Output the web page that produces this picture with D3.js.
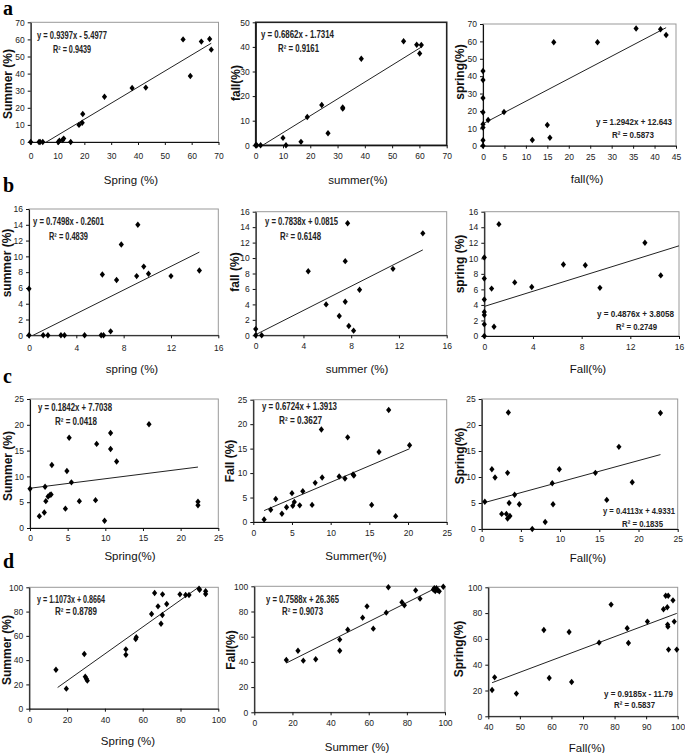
<!DOCTYPE html>
<html><head><meta charset="utf-8">
<script src="https://cdn.jsdelivr.net/npm/d3@7"></script>
<style>body{margin:0;background:#fff} svg{display:block}</style>
</head><body>
<script>
// ---------- DATA ----------
// Row a
const a1Spring = [0,3.1,3.5,4.5,10.3,10.7,11.9,12.3,14.9,18,19.2,19.4,27.5,37.8,42.9,56.8,59.5,63.6,66.7,67.3];
const a1Summer = [0,0,0,0,0,0.8,1.2,2,0,10,11.3,16.4,26.5,31.6,31.8,60,38.6,58.7,60.2,54];
const a2Summer = [0,0.4,1.8,10,11.1,16.6,18.9,24.2,26.5,31.9,31.9,38.7,54.2,59,60.1,60.7];
const a2Fall   = [0,0,0,3,0,1.4,11.5,16.4,4.9,15.4,14.9,35.2,42.3,40.9,37.3,40.8];
const a3Fall   = [0,0,0,0,0,0,0,0,1.2,4.9,11.5,15,15.6,16.5,26.7,35.7,41.4,42.7];
const a3Spring = [0,3.1,10.4,12.3,19.2,27.4,37.8,43,14.8,19.4,3.3,11.9,4.6,59.5,59.5,67.4,67,63.7];
// Row b
const b1Spring = [0,0,1.2,1.6,2.7,3.0,4.7,6.1,6.3,6.2,6.9,7.4,7.8,9.1,9.2,9.7,10.1,12.0,14.4];
const b1Summer = [0,5.9,0,0,0,0,0,0,0,7.7,0.5,7.0,11.5,7.5,14.0,8.7,7.8,7.5,8.2];
const b2Summer = [0,0,0.5,4.4,5.9,7.0,7.5,7.5,7.7,7.8,8.2,8.7,11.5,14.0];
const b2Fall   = [0,0.8,0,8.3,4.0,2.5,9.6,4.35,14.5,1.2,0.6,5.9,8.6,13.2];
const b3Fall   = [0,0,0,0,0,0,0,0.6,0.8,1.2,2.5,3.9,6.5,8.3,9.5,13.2,14.5];
const b3Spring = [0,1.5,2.7,3.1,4.7,7.4,10.1,6.1,1.2,14.4,6.9,6.3,9.2,9.1,6.2,12.0,7.8];
// Row c
const c1Spring = [0,1.24,1.9,2.0,2.1,2.4,2.65,2.8,2.9,4.7,4.9,5.2,5.5,6.55,8.7,8.85,9.9,10.7,10.7,11.5,15.8,22.3,22.3];
const c1Summer = [7.6,2.3,3.0,8.0,5.2,6.1,6.4,6.5,12.2,3.75,11.05,17.5,8.85,5.2,5.4,16.3,1.4,18.4,15.3,12.9,20.1,4.4,5.1];
const c2Summer = [1.4,2.25,2.9,3.7,4.3,5.0,5.1,5.3,6.0,6.4,7.6,8.0,8.8,8.9,11.1,11.85,12.2,12.9,13.0,15.3,16.25,17.5,18.4,20.2];
const c2Fall   = [0.5,2.5,4.7,1.7,3.0,5.9,3.3,4.1,3.4,6.3,3.5,8.0,18.9,9.1,9.3,8.9,17.3,9.7,9.5,3.5,14.3,22.9,1.2,15.7];
const c3Fall   = [0.4,1.3,1.7,2.55,3.15,3.3,3.3,3.4,3.5,3.6,4.2,4.8,6.45,8.1,9.0,9.1,9.9,14.5,15.95,17.5,19.2,22.8];
const c3Spring = [5.25,11.5,9.9,2.9,2.9,2.0,10.8,22.4,5.0,2.5,6.6,4.75,0,1.35,8.8,4.75,11.5,10.8,5.6,15.8,9.0,22.3];
// Row d
const d1Spring = [14.1,19.6,29.1,29.6,30.2,30.7,51.1,51.1,56.3,56.6,64.7,66.3,68.1,69.7,70.4,70.5,72.7,79.7,82.7,84.5,89.8,90.1,93.3,93.3];
const d1Summer = [32.1,16.5,45.1,26.4,24.7,23.1,48.9,44.5,57.4,58.8,78,95.3,84.3,70,77.2,94.2,86.3,94.2,93.7,93.7,98.9,98,96.7,94.5];
const d2Summer = [16.8,22.9,25.7,32.2,44.8,44.8,49,56.8,59.1,62.4,69.2,70.3,77.4,78.7,84.6,86.9,93.9,94.4,94.9,95.5,96,97,99.1];
const d2Fall   = [41.5,48.9,41,42.1,57.7,48.9,65.6,75.1,84.1,66.4,79.1,99.2,87.3,84.9,96.8,90.2,97.4,98.4,96.3,98.4,97.1,96,99.7];
const d3Fall   = [41.2,42.0,48.9,57.6,59.3,65.6,66.4,75.1,78.9,84,84.4,90.4,95.5,96.2,97,96.7,96.8,96.9,97.1,98.5,98.9,99.7];
const d3Spring = [20.4,30.2,17.6,66.9,29.7,65.4,26.6,57.1,86.6,68.2,56.8,73.4,83,93.5,93.5,84.5,71.1,69.5,51.7,89.9,73.4,51.7];

// Regression fits (slope, intercept) and their labels
const fitSlopes     = [0.9397,0.6862,1.2942, 0.7498,0.7838,0.4876, 0.1842,0.6724,0.4113, 1.1073,0.7588,0.9185];
const fitIntercepts = [-5.4977,-1.7314,12.643, -0.2601,0.0815,3.8058, 7.7038,1.3913,4.9331, 0.8664,26.365,-11.79];
const fitRanges     = [[0,67.3],[0,60.7],[0,42.7],[0,14.4],[0,14.0],[0,16],[0,22.3],[1.4,20.2],[0.4,22.8],[15,93.3],[16.8,99.1],[41.2,99.7]];
const eqLabels = ["y = 0.9397x - 5.4977","y = 0.6862x - 1.7314","y = 1.2942x + 12.643",
                  "y = 0.7498x - 0.2601","y = 0.7838x + 0.0815","y = 0.4876x + 3.8058",
                  "y = 0.1842x + 7.7038","y = 0.6724x + 1.3913","y = 0.4113x + 4.9331",
                  "y = 1.1073x + 0.8664","y = 0.7588x + 26.365","y = 0.9185x - 11.79"];
const r2Values = ["0.9439","0.9161","0.5873","0.4839","0.6148","0.2749","0.0418","0.3627","0.1835","0.8789","0.9073","0.5837"];

// Axis titles
const xTitles = ["Spring (%)","summer(%)","fall(%)","spring (%)","summer (%)","Fall(%)","Spring(%)","Summer(%)","Fall(%)","Spring (%)","Summer (%)","Fall(%)"];
const yTitles = ["Summer (%)","fall(%)","spring(%)","summer (%)","fall (%)","spring (%)","Summer (%)","Fall (%)","Spring(%)","Summer (%)","Fall(%)","Spring(%)"];
const rowLetters = ["a","b","c","d"];

// Tick values
const ticks0to70 = [0,10,20,30,40,50,60,70];
const ticks0to50 = [0,10,20,30,40,50];
const ticks0to45 = [0,5,10,15,20,25,30,35,40,45];
const ticks0to16 = [0,4,8,12,16];
const ticks0to16by2 = [0,2,4,6,8,10,12,14,16];
const ticks0to25 = [0,5,10,15,20,25];
const ticks0to100 = [0,20,40,60,80,100];
const ticks40to100 = [40,50,60,70,80,90,100];

// ---------- LAYOUT ----------
const panels = [
 {x:a1Spring,y:a1Summer,xd:[0,70],yd:[0,70],xt:ticks0to70,yt:ticks0to70, L:30.7,R:218.5,B:142,T:22.3, eq:[37,38.5],r2:[53,52.5], xtl:[131,183.5], ytl:[8,84], xg:17, frame:"#999", fw:1},
 {x:a2Summer,y:a2Fall,xd:[0,70],yd:[0,50],xt:ticks0to70,yt:ticks0to50, L:255.7,R:446.7,B:145.3,T:22.3, eq:[261,38],r2:[278,52], xtl:[358,183.5], ytl:[235.5,83], xg:14, frame:"#222", fw:1.6},
 {x:a3Fall,y:a3Spring,xd:[0,45],yd:[0,70],xt:ticks0to45,yt:ticks0to70, L:483,R:676,B:145.7,T:24, eq:[596,124.5],r2:[612,137.5], xtl:[587,182.5], ytl:[460,72], xg:14, frame:"#999", fw:1},
 {x:b1Spring,y:b1Summer,xd:[0,16],yd:[0,16],xt:ticks0to16,yt:ticks0to16by2, L:29,R:218.3,B:335.3,T:209, eq:[33,225],r2:[49,240], xtl:[132,372.5], ytl:[7,263], xg:16, frame:"#999", fw:1},
 {x:b2Summer,y:b2Fall,xd:[0,16],yd:[0,16],xt:ticks0to16,yt:ticks0to16by2, L:255.7,R:446.7,B:335.3,T:211.7, eq:[265,225],r2:[280,240], xtl:[357,372.5], ytl:[235,272], xg:14, frame:"#999", fw:1},
 {x:b3Fall,y:b3Spring,xd:[0,16],yd:[0,16],xt:ticks0to16,yt:ticks0to16by2, L:484.3,R:679,B:336,T:211.7, eq:[597,317],r2:[616,329.5], xtl:[588,372.5], ytl:[460,264], xg:14, frame:"#999", fw:1},
 {x:c1Spring,y:c1Summer,xd:[0,25],yd:[0,25],xt:ticks0to25,yt:ticks0to25, L:30,R:218.3,B:528,T:399, eq:[38,411],r2:[55,425], xtl:[130,559.5], ytl:[7.5,466], xg:13, frame:"#999", fw:1},
 {x:c2Summer,y:c2Fall,xd:[0,25],yd:[0,25],xt:ticks0to25,yt:ticks0to25, L:253.3,R:446.7,B:522,T:399.7, eq:[262,410],r2:[279,424], xtl:[356,559.5], ytl:[230,461], xg:14, frame:"#999", fw:1},
 {x:c3Fall,y:c3Spring,xd:[0,25],yd:[0,25],xt:ticks0to25,yt:ticks0to25, L:481.7,R:677.7,B:529,T:399, eq:[603,514],r2:[622,527], xtl:[588,561.5], ytl:[460,456], xg:12.5, frame:"#999", fw:1},
 {x:d1Spring,y:d1Summer,xd:[0,100],yd:[0,100],xt:ticks0to100,yt:ticks0to100, L:29.3,R:218.3,B:708.7,T:587.3, eq:[37,602.5],r2:[55,615], xtl:[128,744.5], ytl:[7,650], xg:14.5, frame:"#999", fw:1},
 {x:d2Summer,y:d2Fall,xd:[0,100],yd:[0,100],xt:ticks0to100,yt:ticks0to100, L:254.3,R:445,B:712.3,T:586.3, eq:[266,603],r2:[282,615], xtl:[357,751], ytl:[231,650], xg:14, frame:"#999", fw:1},
 {x:d3Fall,y:d3Spring,xd:[40,100],yd:[0,100],xt:ticks40to100,yt:ticks0to100, L:488.3,R:677.7,B:716.3,T:587.3, eq:[604,697],r2:[614,707.5], xtl:[587,752], ytl:[459,649], xg:13.5, frame:"#999", fw:1}
];
const letterPos = [[3,15],[3,192],[3,383],[3,568]];
const eqWidths = [70,73,76,71,73,77,74,75,72,68,73,69];
const r2Widths = [38,41,42,39,41,41,42,43,41,42,41,41];

const FONT = "'Liberation Sans Narrow','Arial Narrow','Liberation Sans',Arial,sans-serif";

const svg = d3.select("body").append("svg").attr("width",685).attr("height",753)
  .style("font-family",FONT);

const diamond = {draw(ctx,size){const w=2.6,h=3.2;ctx.moveTo(0,-h);ctx.lineTo(w,0);ctx.lineTo(0,h);ctx.lineTo(-w,0);ctx.closePath();}};

panels.forEach((p,i)=>{
  const xs = d3.scaleLinear().domain(p.xd).range([p.L,p.R]);
  const ys = d3.scaleLinear().domain(p.yd).range([p.B,p.T]);
  const g = svg.append("g");

  // frame (top/right)
  g.append("rect").attr("x",p.L).attr("y",p.T).attr("width",p.R-p.L).attr("height",p.B-p.T)
    .attr("fill","none").attr("stroke",p.frame).attr("stroke-width",p.fw);

  // axes
  const xa = d3.axisBottom(xs).tickValues(p.xt).tickSize(3).tickSizeOuter(0).tickPadding(p.xg-9);
  const ya = d3.axisLeft(ys).tickValues(p.yt).tickSize(3).tickSizeOuter(0).tickPadding(3);
  const gx = g.append("g").attr("transform",`translate(0,${p.B})`).call(xa);
  const gy = g.append("g").attr("transform",`translate(${p.L},0)`).call(ya);
  [gx,gy].forEach(a=>{
    a.select(".domain").attr("stroke","#111").attr("stroke-width",1.1);
    a.selectAll(".tick line").attr("stroke","#111");
    a.selectAll(".tick text").attr("fill","#222").style("font-size","8.5px").style("font-family",FONT);
  });

  // trendline (clipped)
  const cid = "clip"+i;
  svg.append("clipPath").attr("id",cid).append("rect")
    .attr("x",p.L).attr("y",p.T).attr("width",p.R-p.L).attr("height",p.B-p.T);
  const [r0,r1] = fitRanges[i];
  const line = d3.line().x(d=>xs(d)).y(d=>ys(fitSlopes[i]*d+fitIntercepts[i]));
  g.append("path").datum([r0,r1]).attr("d",line).attr("clip-path",`url(#${cid})`)
    .attr("stroke","#222").attr("stroke-width",1).attr("fill","none");

  // points
  const pts = p.x.map((v,k)=>[v,p.y[k]]);
  g.selectAll("path.pt").data(pts).join("path").attr("class","pt")
    .attr("d",d3.symbol().type(diamond))
    .attr("transform",d=>`translate(${xs(d[0])},${ys(d[1])})`)
    .attr("fill","#000");

  // equation text (right-column panels anchored at the end so text stays inside)
  const rightCol = (i % 3 === 2);
  const eqFs = rightCol ? "9px" : "10px";
  g.append("text")
    .attr("x", rightCol ? p.eq[0]+eqWidths[i] : p.eq[0]).attr("y",p.eq[1])
    .attr("text-anchor", rightCol ? "end" : "start").text(eqLabels[i])
    .style("font-size",eqFs).style("font-weight","bold").attr("fill","#222")
    .attr("textLength",eqWidths[i]).attr("lengthAdjust","spacingAndGlyphs");
  g.append("text")
    .attr("x", rightCol ? p.r2[0]+r2Widths[i] : p.r2[0]).attr("y",p.r2[1])
    .attr("text-anchor", rightCol ? "end" : "start")
    .style("font-size",eqFs).style("font-weight","bold").attr("fill","#222")
    .attr("textLength",r2Widths[i]).attr("lengthAdjust","spacingAndGlyphs")
    .text("R² = "+r2Values[i]);

  // axis titles
  g.append("text").attr("x",p.xtl[0]).attr("y",p.xtl[1]).attr("text-anchor","middle")
    .style("font-size","11.5px").attr("fill","#111").text(xTitles[i]);
  g.append("text").attr("transform",`translate(${p.ytl[0]+4},${p.ytl[1]}) rotate(-90)`)
    .attr("text-anchor","middle").style("font-size","12px").style("font-weight","bold")
    .attr("fill","#111").text(yTitles[i]);
});

rowLetters.forEach((l,i)=>{
  svg.append("text").attr("x",letterPos[i][0]).attr("y",letterPos[i][1])
    .style("font-family","'Liberation Serif','Times New Roman',serif").style("font-weight","bold")
    .style("font-size","20px").attr("fill","#000").text(l);
});
</script>
</body></html>
